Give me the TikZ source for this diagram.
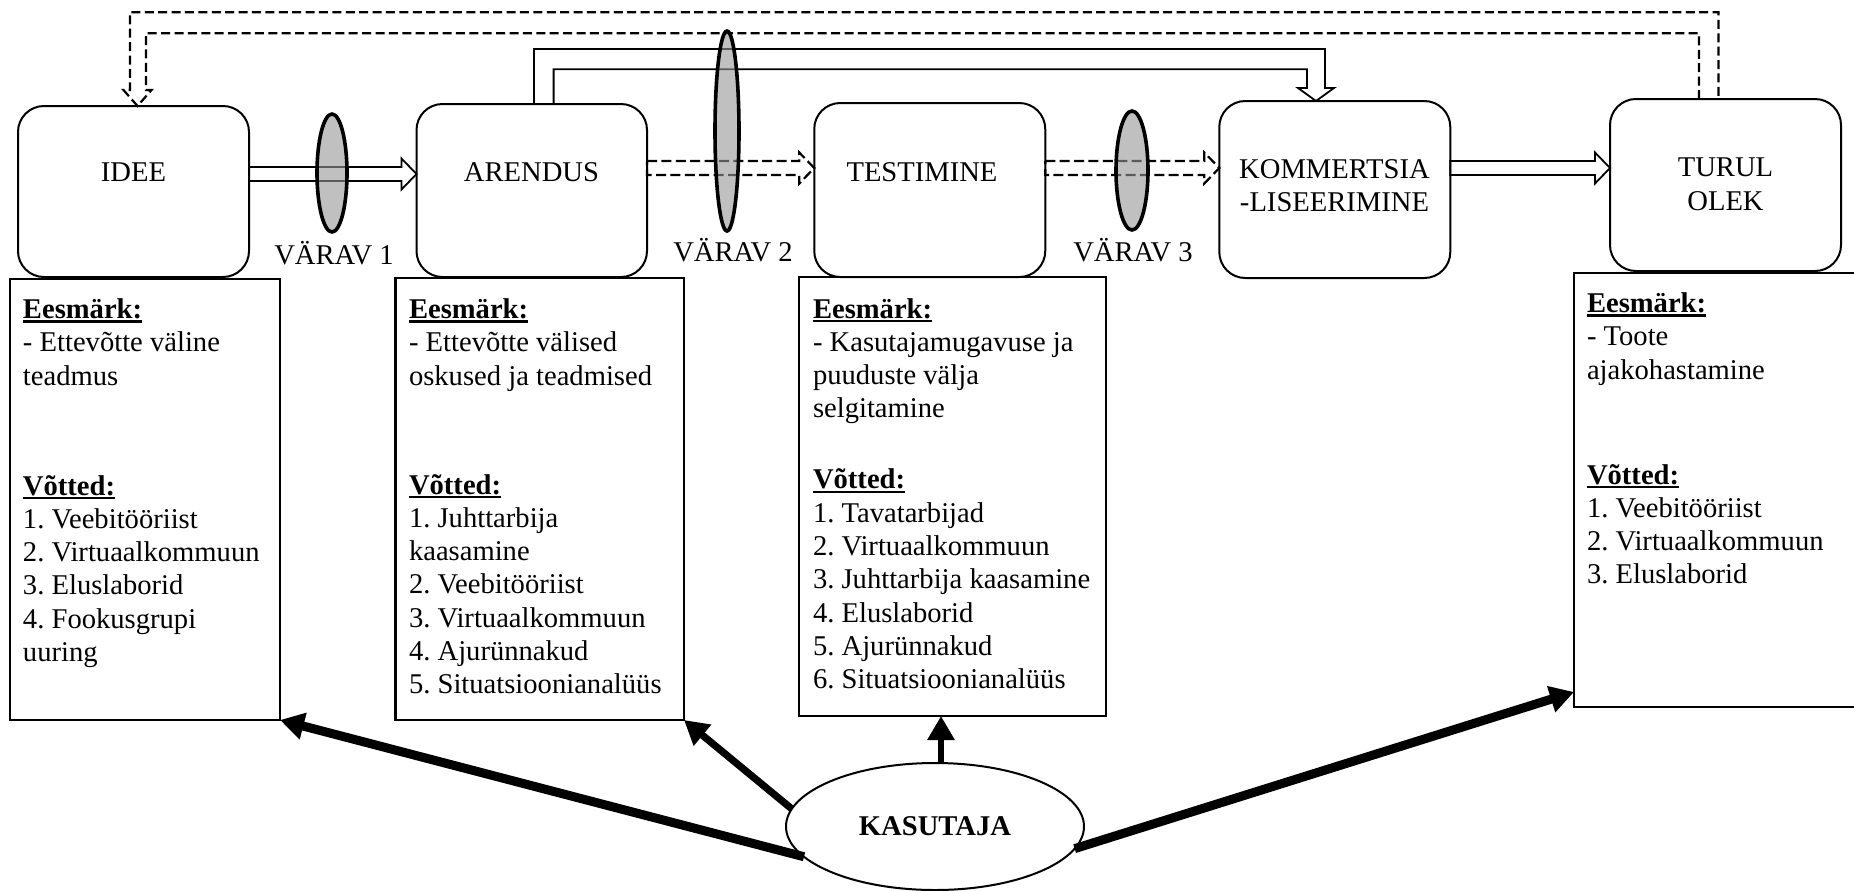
\documentclass[tikz,border=0pt]{standalone}
\usepackage{fontspec}
\setmainfont{Liberation Serif}
\frenchspacing
\usetikzlibrary{shapes.geometric,arrows.meta,calc}

\definecolor{gatefill}{RGB}{150,150,150}

% bold heading with a heavy underline
\newsavebox\ulbox
\newcommand\headul[1]{\sbox\ulbox{\bfseries #1}\rlap{\rule[-2pt]{\wd\ulbox}{1.1pt}}\usebox\ulbox}

% horizontal outlined block arrow: style, from node, to node, centre row
\newcommand\hblock[4]{%
  \pgfmathsetmacro\hbA{#4-7}\pgfmathsetmacro\hbB{#4+7}%
  \pgfmathsetmacro\hbC{#4-15.5}\pgfmathsetmacro\hbD{#4+15.5}%
  \draw[#1] (#2.east |- 0,\hbA) -- ($(#3.west |- 0,\hbA)+(-15,0)$)
    -- ($(#3.west |- 0,\hbC)+(-15,0)$) -- (#3.west |- 0,#4)
    -- ($(#3.west |- 0,\hbD)+(-15,0)$) -- ($(#3.west |- 0,\hbB)+(-15,0)$)
    -- (#2.east |- 0,\hbB) -- cycle;}

\tikzset{
  txt/.style={font=\fontsize{14.3}{16.65}\selectfont, inner sep=0, outer sep=0},
  infotext/.style={txt, align=left, anchor=north west},
  stage/.style={draw, line width=1pt, rounded corners=13pt, minimum width=115.5pt,
    inner sep=0, outer sep=0},
  infobox/.style={draw, line width=1.2pt, inner sep=0, outer sep=0},
  gate/.style={ellipse, draw, line width=1.8pt, fill=gatefill, fill opacity=0.6,
    inner sep=0, outer sep=0},
  flowline/.style={line width=0.9pt, line join=miter},
  dashflow/.style={line width=1.1pt, dash pattern=on 5pt off 2.2pt},
  topdash/.style={line width=1.1pt, dash pattern=on 4.5pt off 2.2pt},
  topsolid/.style={line width=0.9pt},
  usrarrow/.style={line width=4.5pt, -{Triangle[length=12pt,width=13pt]}}
}

\begin{document}
\begin{tikzpicture}[x=0.5pt,y=-0.5pt]
\useasboundingbox (0,0) rectangle (1854,890);

% process stages
\node[stage, minimum height=85.5pt] (idee) at (133.5,191.5) {};
\node[stage, minimum width=115.25pt, minimum height=86.5pt] (arendus) at (531.75,190.5) {};
\node[stage, minimum height=87pt] (test) at (929.75,190) {};
\node[stage, minimum height=88.5pt] (komm) at (1334.8,189.5) {};
\node[stage, minimum height=86pt] (turg) at (1725.5,185) {};

\node[txt, anchor=base] (tidee) at (133.5,181.7) {IDEE};
\node[txt, anchor=base] (tarendus) at (531.5,181.7) {ARENDUS};
\node[txt, anchor=base] (ttest) at (922,181.7) {TESTIMINE};
\node[txt, align=center, anchor=north] (tkomm) at (1334.5,155) {\strut KOMMERTSIA\\-LISEERIMINE};
\node[txt, align=center, anchor=north] (tturg) at (1725.5,153.4) {\strut TURUL\\OLEK};

% description boxes
\node[infobox, minimum width=135pt, minimum height=220.5pt] (b1) at (145,499.5) {};
\node[infobox, minimum width=144.25pt, minimum height=221pt] (b2) at (539.75,499) {};
\node[infobox, minimum width=153.5pt, minimum height=219.5pt] (b3) at (952.5,496.5) {};
\node[infobox, minimum width=148pt, minimum height=217pt] (b4) at (1722,490) {};

\node[infotext] (t1) at (23,295.2) {\strut\headul{Eesmärk:}\\- Ettevõtte väline\\teadmus\\[38.3pt]%
  \headul{Võtted:}\\1. Veebitööriist\\2. Virtuaalkommuun\\3. Eluslaborid\\4. Fookusgrupi\\uuring};
\node[infotext] (t2) at (409,295.2) {\strut\headul{Eesmärk:}\\- Ettevõtte välised\\oskused ja teadmised\\[37.8pt]%
  \headul{Võtted:}\\1. Juhttarbija\\kaasamine\\2. Veebitööriist\\3. Virtuaalkommuun\\4. Ajurünnakud\\5. Situatsioonianalüüs};
\node[infotext] (t3) at (813,294.7) {\strut\headul{Eesmärk:}\\- Kasutajamugavuse ja\\puuduste välja\\selgitamine\\[18.8pt]%
  \headul{Võtted:}\\1. Tavatarbijad\\2. Virtuaalkommuun\\3. Juhttarbija kaasamine\\4. Eluslaborid\\5. Ajurünnakud\\6. Situatsioonianalüüs};
\node[infotext] (t4) at (1587,289.2) {\strut\headul{Eesmärk:}\\- Toote\\ajakohastamine\\[35.8pt]%
  \headul{Võtted:}\\1. Veebitööriist\\2. Virtuaalkommuun\\3. Eluslaborid};

% flow between stages
\hblock{flowline}{idee}{arendus}{174}
\hblock{dashflow}{arendus}{test}{168}
\hblock{dashflow}{test}{komm}{168}
\hblock{flowline}{komm}{turg}{168}

% feedback from market back to the idea
\draw[topdash] (turg.north -| 1699,0) -- (1699,33.3) -- (146,33.3) -- (146,90) -- (151.5,90)
  -- (idee.north -| 137.5,0) -- (123.5,90) -- (130,90) -- (130,12.3) -- (1718.4,12.3)
  -- (turg.north -| 1718.4,0);

% shortcut from development to commercialisation
\draw[topsolid] (arendus.north -| 534,0) -- (534,49) -- (1325,49) -- (1325,88) -- (1334,88)
  -- (komm.north -| 1316,0) -- (1298,88) -- (1307,88) -- (1307,69.3) -- (553.6,69.3)
  -- (arendus.north -| 553.6,0);

% gates
\node[gate, minimum width=15pt, minimum height=59pt] (g1) at (332,173) {};
\node[gate, minimum width=12pt, minimum height=100pt] (g2) at (727,131) {};
\node[gate, minimum width=16pt, minimum height=59.5pt] (g3) at (1132,170.5) {};

\node[txt, anchor=base] (v1) at (334,264.5) {VÄRAV 1};
\node[txt, anchor=base] (v2) at (733,261.5) {VÄRAV 2};
\node[txt, anchor=base] (v3) at (1133,261.5) {VÄRAV 3};

% the user
\node[ellipse, draw, line width=1pt, minimum width=149pt, minimum height=63.5pt,
  inner sep=0, outer sep=0, font=\fontsize{14.3}{16.65}\selectfont\bfseries] (kas) at (935,826.5) {KASUTAJA};

\draw[usrarrow] (kas.193) -- (b1.south east);
\draw[usrarrow, line width=3.6pt] (kas.173) -- (b2.south east);
\draw[usrarrow, line width=3pt] (kas.north -| 941,0) -- (b3.south -| 941,0);
\draw[usrarrow] (kas.351) -- ($(b4.south west)+(0,-15)$);
\end{tikzpicture}
\end{document}
